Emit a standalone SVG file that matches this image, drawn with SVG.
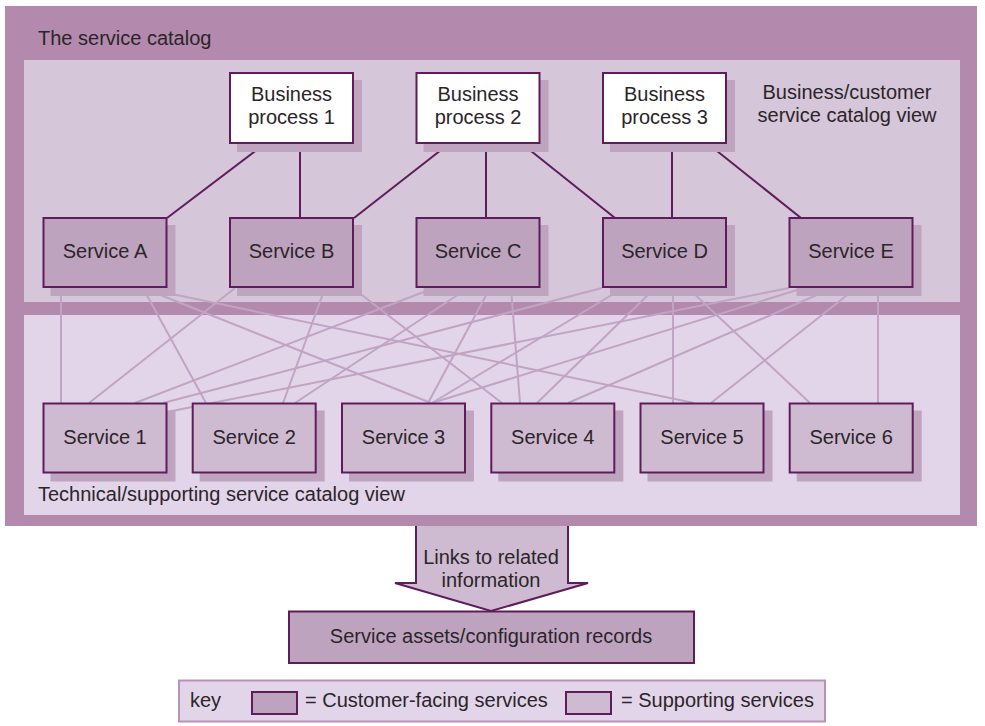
<svg xmlns="http://www.w3.org/2000/svg" width="985" height="726" viewBox="0 0 985 726">
<style>
text{font-family:"Liberation Sans",Arial,sans-serif;font-size:20px;fill:#2a2528}
.m{text-anchor:middle}
.cf{fill:#bea3bf;stroke:#5e1c5b;stroke-width:2}
.sp{fill:#cfbbd1;stroke:#5e1c5b;stroke-width:2}
.bp{fill:#ffffff;stroke:#5e1c5b;stroke-width:2}
.sh{fill:#bfa4c0}
.dk{stroke:#5e1c5b;stroke-width:2;fill:none}
.lt{stroke:#c1a4c3;stroke-width:2;fill:none}
</style>
<rect id="catalog-frame" x="5" y="6" width="972" height="520" fill="#b38aad"/>
<text x="38" y="45">The service catalog</text>
<rect id="business-view" x="24" y="60" width="936" height="242" fill="#d6c6d9"/>
<rect id="technical-view" x="24" y="315" width="936" height="200" fill="#e2d5ea"/>
<text x="847" y="99" class="m">Business/customer</text>
<text x="847" y="122" class="m">service catalog view</text>
<text x="38" y="501">Technical/supporting service catalog view</text>

<g id="connectors">
<g class="lt">
<line x1="61" y1="288" x2="61" y2="403"/>
<line x1="143" y1="288" x2="206" y2="403"/>
<line x1="143" y1="288" x2="431" y2="403"/>
<line x1="143" y1="288" x2="694" y2="403"/>
<line x1="235" y1="288" x2="89" y2="403"/>
<line x1="325" y1="288" x2="283" y2="403"/>
<line x1="354" y1="289" x2="502" y2="403"/>
<line x1="434" y1="288" x2="135" y2="403"/>
<line x1="468" y1="288" x2="295" y2="403"/>
<line x1="490" y1="288" x2="428" y2="403"/>
<line x1="511" y1="288" x2="520" y2="403"/>
<line x1="602" y1="288" x2="163" y2="403"/>
<line x1="620" y1="290" x2="432" y2="403"/>
<line x1="655" y1="288" x2="537" y2="403"/>
<line x1="673" y1="288" x2="673" y2="403"/>
<line x1="688" y1="288" x2="810" y2="403"/>
<line x1="789" y1="288" x2="167" y2="412"/>
<line x1="797" y1="290" x2="432" y2="403"/>
<line x1="833" y1="288" x2="568" y2="403"/>
<line x1="856" y1="288" x2="711" y2="403"/>
<line x1="878" y1="288" x2="878" y2="403"/>
</g>
<g class="dk">
<line x1="266" y1="143" x2="167" y2="218"/>
<line x1="300" y1="143" x2="300" y2="218"/>
<line x1="450" y1="143" x2="354" y2="218"/>
<line x1="486" y1="143" x2="486" y2="218"/>
<line x1="521" y1="143" x2="615" y2="218"/>
<line x1="672" y1="143" x2="672" y2="218"/>
<line x1="707" y1="143" x2="801" y2="218"/>
</g>
</g>

<g id="bp1"><rect class="sh" x="237" y="80" width="125" height="72"/><rect class="bp" x="230" y="73" width="123" height="70"/><text x="291.5" y="101" class="m">Business</text><text x="291.5" y="124" class="m">process 1</text></g>
<g id="bp2"><rect class="sh" x="423.5" y="80" width="125" height="72"/><rect class="bp" x="416.5" y="73" width="123" height="70"/><text x="478" y="101" class="m">Business</text><text x="478" y="124" class="m">process 2</text></g>
<g id="bp3"><rect class="sh" x="610" y="80" width="125" height="72"/><rect class="bp" x="603" y="73" width="123" height="70"/><text x="664.5" y="101" class="m">Business</text><text x="664.5" y="124" class="m">process 3</text></g>

<g id="svc-a"><rect class="sh" x="50.5" y="225" width="125" height="71"/><rect class="cf" x="43.5" y="218" width="123" height="69"/><text x="105" y="258" class="m">Service A</text></g>
<g id="svc-b"><rect class="sh" x="237" y="225" width="125" height="71"/><rect class="cf" x="230" y="218" width="123" height="69"/><text x="291.5" y="258" class="m">Service B</text></g>
<g id="svc-c"><rect class="sh" x="423.5" y="225" width="125" height="71"/><rect class="cf" x="416.5" y="218" width="123" height="69"/><text x="478" y="258" class="m">Service C</text></g>
<g id="svc-d"><rect class="sh" x="610" y="225" width="125" height="71"/><rect class="cf" x="603" y="218" width="123" height="69"/><text x="664.5" y="258" class="m">Service D</text></g>
<g id="svc-e"><rect class="sh" x="796.5" y="225" width="125" height="71"/><rect class="cf" x="789.5" y="218" width="123" height="69"/><text x="851" y="258" class="m">Service E</text></g>

<g id="svc-1"><rect class="sh" x="50.5" y="410.5" width="125" height="71"/><rect class="sp" x="43.5" y="403.5" width="123" height="69"/><text x="105" y="444" class="m">Service 1</text></g>
<g id="svc-2"><rect class="sh" x="199.7" y="410.5" width="125" height="71"/><rect class="sp" x="192.7" y="403.5" width="123" height="69"/><text x="254.2" y="444" class="m">Service 2</text></g>
<g id="svc-3"><rect class="sh" x="349" y="410.5" width="125" height="71"/><rect class="sp" x="342" y="403.5" width="123" height="69"/><text x="403.5" y="444" class="m">Service 3</text></g>
<g id="svc-4"><rect class="sh" x="498.3" y="410.5" width="125" height="71"/><rect class="sp" x="491.3" y="403.5" width="123" height="69"/><text x="552.8" y="444" class="m">Service 4</text></g>
<g id="svc-5"><rect class="sh" x="647.5" y="410.5" width="125" height="71"/><rect class="sp" x="640.5" y="403.5" width="123" height="69"/><text x="702" y="444" class="m">Service 5</text></g>
<g id="svc-6"><rect class="sh" x="796.7" y="410.5" width="125" height="71"/><rect class="sp" x="789.7" y="403.5" width="123" height="69"/><text x="851.2" y="444" class="m">Service 6</text></g>

<g id="links-arrow">
<path d="M416,526 L416,583 L395,583 L491,611 L588,583 L568,583 L568,526 Z" fill="#cfbbd1"/>
<path d="M416,526 L416,583 L395,583 L491,611 L588,583 L568,583 L568,526" class="dk"/>
<text x="491" y="564" class="m">Links to related</text>
<text x="491" y="587" class="m">information</text>
</g>

<g id="records"><rect class="cf" x="289" y="611.5" width="405" height="51.5"/><text x="491" y="643" class="m">Service assets/configuration records</text></g>

<g id="key">
<rect x="179" y="680.5" width="646" height="41" fill="#e2d5ea" stroke="#b991b5" stroke-width="2"/>
<text x="190" y="707">key</text>
<rect class="cf" x="252" y="692" width="45" height="22"/>
<text x="305" y="707">= Customer-facing services</text>
<rect class="sp" x="566" y="692" width="45" height="22"/>
<text x="621" y="707">= Supporting services</text>
</g>
</svg>
